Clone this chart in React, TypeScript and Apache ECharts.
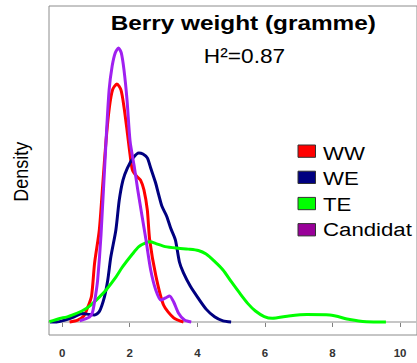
import React, { useEffect, useRef } from "react";
import * as echarts from "echarts";

// Berry weight (gramme) – kernel density estimates
const seriesNames = ["WW", "WE", "TE", "Candidat"];
const lineColors = ["#ff0000", "#000080", "#00ff00", "#a020f0"];
const legendFills = ["#ff0000", "#000080", "#00ff00", "#990099"];

const wwX = [0.22, 0.46, 0.64, 0.75, 0.87, 0.96, 1.1, 1.2, 1.3, 1.4, 1.49, 1.62, 1.74, 1.83, 1.93, 2.01, 2.08, 2.22, 2.32, 2.42, 2.52, 2.59, 2.77, 3.0, 3.3, 3.59];
const wwY = [0, 0.007, 0.022, 0.051, 0.095, 0.215, 0.336, 0.5, 0.664, 0.785, 0.847, 0.869, 0.847, 0.785, 0.69, 0.61, 0.555, 0.53, 0.518, 0.482, 0.409, 0.3, 0.17, 0.062, 0.015, 0];

const weX = [-0.36, -0.16, 0.08, 0.32, 0.61, 0.81, 0.96, 1.1, 1.25, 1.35, 1.44, 1.59, 1.69, 1.8, 1.93, 2.1, 2.27, 2.39, 2.52, 2.62, 2.76, 2.86, 2.95, 3.09, 3.21, 3.35, 3.47, 3.59, 3.79, 4.02, 4.26, 4.51, 4.76, 5.0];
const weY = [0, 0, 0.007, 0.017, 0.031, 0.027, 0.026, 0.038, 0.091, 0.153, 0.237, 0.336, 0.445, 0.518, 0.562, 0.599, 0.617, 0.613, 0.599, 0.562, 0.51, 0.463, 0.423, 0.387, 0.343, 0.3, 0.219, 0.179, 0.131, 0.088, 0.047, 0.019, 0.004, 0];

const teX = [-0.38, -0.07, 0.13, 0.37, 0.61, 0.81, 1.1, 1.3, 1.59, 1.78, 2.08, 2.27, 2.47, 2.61, 2.76, 3.05, 3.44, 3.73, 4.03, 4.26, 4.51, 4.76, 5.0, 5.25, 5.49, 5.72, 5.98, 6.22, 6.66, 7.24, 7.92, 8.51, 9.0, 9.58];
const teY = [0.001, 0.013, 0.018, 0.029, 0.042, 0.058, 0.091, 0.117, 0.164, 0.2, 0.248, 0.275, 0.289, 0.293, 0.287, 0.275, 0.269, 0.266, 0.261, 0.248, 0.221, 0.19, 0.148, 0.106, 0.068, 0.04, 0.02, 0.0135, 0.021, 0.027, 0.0255, 0.009, 0.001, 0];

const caX = [0.52, 0.81, 0.9, 0.99, 1.05, 1.15, 1.3, 1.39, 1.48, 1.57, 1.667, 1.75, 1.83, 1.92, 2.01, 2.13, 2.24, 2.36, 2.48, 2.62, 2.77, 2.92, 3.06, 3.18, 3.3, 3.44, 3.62, 3.82];
const caY = [0.004, 0.018, 0.036, 0.098, 0.153, 0.318, 0.664, 0.847, 0.934, 0.982, 1.0, 0.982, 0.92, 0.81, 0.66, 0.57, 0.48, 0.39, 0.3, 0.19, 0.117, 0.08, 0.088, 0.095, 0.073, 0.033, 0.007, 0];

const tickValues = [0, 2, 4, 6, 8, 10];

const xs = [wwX, weX, teX, caX];
const ys = [wwY, weY, teY, caY];

const FONT = "'Liberation Sans', Arial, sans-serif";

export default function App() {
  const ref = useRef<HTMLDivElement>(null);
  useEffect(() => {
    if (!ref.current) return;
    const chart = echarts.init(ref.current, undefined, { renderer: "svg" });
    const series: any[] = seriesNames.map((name, i) => ({
      name,
      type: "line",
      data: xs[i].map((x, j) => [x, ys[i][j]]),
      smooth: 0.25,
      showSymbol: false,
      symbol: "none",
      lineStyle: { color: lineColors[i], width: 3 },
      itemStyle: { color: lineColors[i] },
      z: 3 + i,
      markLine:
        i === 0
          ? {
              silent: true,
              symbol: ["none", "none"],
              label: { show: false },
              lineStyle: { color: "#d3d3d3", width: 1.5, type: "solid" },
              data: [{ yAxis: 0 }],
              z: 1,
            }
          : undefined,
    }));

    const legendGraphics: any[] = [];
    seriesNames.forEach((name, i) => {
      legendGraphics.push({
        type: "rect",
        shape: { x: 298, y: 145 + i * 26.2, width: 17.5, height: 12.3 },
        style: { fill: legendFills[i], stroke: "#333333", lineWidth: 1 },
      });
      legendGraphics.push({
        type: "text",
        x: 323,
        y: 153.3 + i * 25.3,
        scaleX: 1.17,
        style: {
          text: name,
          font: `19px ${FONT}`,
          fill: "#000000",
          textAlign: "left",
          textVerticalAlign: "middle",
        },
      });
    });

    chart.setOption({
      animation: false,
      grid: {
        left: 49,
        top: 6,
        width: 372.4,
        height: 329,
        show: true,
        borderColor: "#8c8c8c",
        borderWidth: 1,
        backgroundColor: "transparent",
      },
      xAxis: {
        type: "value",
        min: -0.389,
        max: 10.5,
        axisLine: { show: true, lineStyle: { color: "#808080", width: 1.5 } },
        axisTick: {
          show: true,
          length: 5,
          customValues: tickValues,
          lineStyle: { color: "#808080", width: 1 },
        },
        axisLabel: {
          show: true,
          customValues: tickValues,
          fontFamily: FONT,
          fontSize: 11.5,
          fontWeight: "bold",
          color: "#333333",
          margin: 12,
        },
        splitLine: { show: false },
      },
      yAxis: {
        type: "value",
        min: -0.04745,
        max: 1.1533,
        show: false,
        splitLine: { show: false },
      },
      series,
      graphic: [
        {
          type: "text",
          x: 243.3,
          y: 22.5,
          scaleX: 1.16,
          style: {
            text: "Berry weight (gramme)",
            font: `bold 21px ${FONT}`,
            fill: "#000000",
            textAlign: "center",
            textVerticalAlign: "middle",
          },
        },
        {
          type: "text",
          x: 244.5,
          y: 56,
          scaleX: 1.08,
          style: {
            text: "H²=0.87",
            font: `21px ${FONT}`,
            fill: "#000000",
            textAlign: "center",
            textVerticalAlign: "middle",
          },
        },
        {
          type: "text",
          x: 21,
          y: 171.7,
          rotation: Math.PI / 2,
          scaleY: 1.12,
          style: {
            text: "Density",
            font: `18px ${FONT}`,
            fill: "#000000",
            textAlign: "center",
            textVerticalAlign: "middle",
          },
        },
        ...legendGraphics,
      ],
    });
    return () => chart.dispose();
  }, []);
  return (
    <div
      ref={ref}
      style={{ position: "fixed", left: 0, top: 0, width: 417, height: 363, background: "#ffffff" }}
    />
  );
}
